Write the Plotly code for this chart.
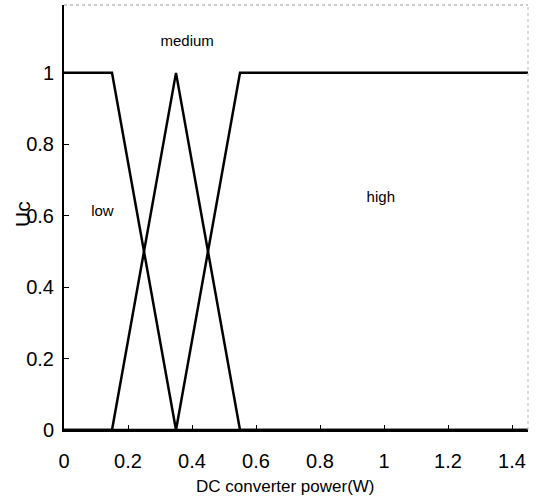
import plotly.graph_objects as go

# Membership functions (x = DC converter power (W), y = Uc)
low_x = [0, 0.15, 0.35, 1.45]
low_y = [1, 1, 0, 0]
medium_x = [0, 0.15, 0.35, 0.55, 1.45]
medium_y = [0, 0, 1, 0, 0]
high_x = [0, 0.35, 0.55, 1.45]
high_y = [0, 0, 1, 1]

labels = ["low", "medium", "high"]
label_x = [0.12, 0.385, 0.99]
label_y = [0.61, 1.085, 0.65]

x_ticks = [0, 0.2, 0.4, 0.6, 0.8, 1, 1.2, 1.4]
x_tick_text = ["0", "0.2", "0.4", "0.6", "0.8", "1", "1.2", "1.4"]
y_ticks = [0, 0.2, 0.4, 0.6, 0.8, 1]
y_tick_text = ["0", "0.2", "0.4", "0.6", "0.8", "1"]

fig = go.Figure()
for xs, ys in [(low_x, low_y), (medium_x, medium_y), (high_x, high_y)]:
    fig.add_trace(go.Scatter(x=xs, y=ys, mode="lines",
                             line=dict(color="black", width=2.5),
                             showlegend=False, hoverinfo="skip"))

fig.add_trace(go.Scatter(x=label_x, y=label_y, mode="text", text=labels,
                         textfont=dict(family="Liberation Sans Narrow, Arial Narrow, Liberation Sans", size=15, color="black"),
                         showlegend=False, hoverinfo="skip"))

font_main = "Liberation Sans, Arial, sans-serif"
fig.update_layout(
    width=538, height=497,
    margin=dict(l=64, r=10, t=5, b=67),
    plot_bgcolor="white", paper_bgcolor="white",
    font=dict(family=font_main, color="black"),
    xaxis=dict(range=[0, 1.45], tickvals=x_ticks, ticktext=x_tick_text,
               ticks="inside", ticklen=5, tickcolor="black",
               showline=True, linecolor="black", linewidth=2,
               mirror=False, showgrid=False, zeroline=False,
               tickfont=dict(size=20), ticklabelstandoff=12),
    yaxis=dict(range=[0, 1.19], tickvals=y_ticks, ticktext=y_tick_text,
               ticks="inside", ticklen=5, tickcolor="black",
               showline=True, linecolor="black", linewidth=2,
               showgrid=False, zeroline=False,
               tickfont=dict(size=20), ticklabelstandoff=4),
    annotations=[
        dict(text="DC converter power(W)", xref="paper", yref="paper",
             x=(285 - 64) / 464, y=-57 / 425, xanchor="center", yanchor="middle",
             showarrow=False,
             font=dict(family="Liberation Sans Narrow, Arial Narrow, Liberation Sans", size=17)),
        dict(text="Uc", xref="paper", yref="paper",
             x=(22 - 64) / 464, y=(430 - 214) / 425, xanchor="center", yanchor="middle",
             textangle=-90, showarrow=False, font=dict(size=21)),
    ],
    shapes=[
        dict(type="line", xref="paper", yref="paper", x0=0, x1=1, y0=1, y1=1,
             line=dict(color="#999999", width=1, dash="dot")),
        dict(type="line", xref="paper", yref="paper", x0=1, x1=1, y0=0, y1=1,
             line=dict(color="#bbbbbb", width=1, dash="dot")),
    ],
)

fig.write_html("out.html")
